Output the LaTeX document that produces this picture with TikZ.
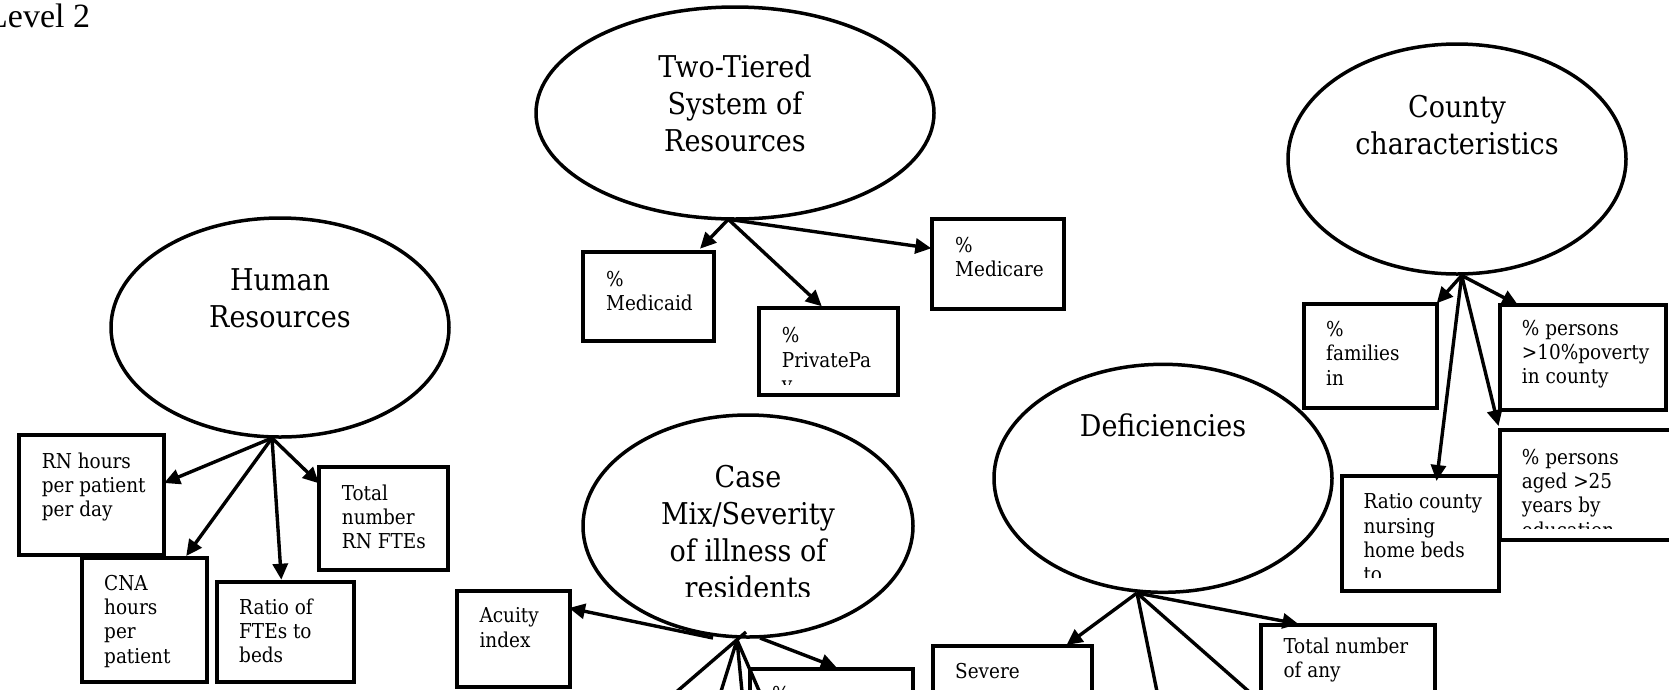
\documentclass[tikz,border=0pt]{standalone}
\usepackage{fontspec}
\setmainfont{DejaVu Serif Condensed}
\newfontfamily\headfont{Liberation Serif}
\usetikzlibrary{arrows.meta,shapes.geometric}
\newcommand{\leftlines}[1]{\begin{tabular}[t]{@{}l@{}}#1\end{tabular}}
\newcommand{\centerlines}[1]{\begin{tabular}[t]{@{}c@{}}#1\end{tabular}}
\begin{document}
\begin{tikzpicture}[x=1pt,y=-1pt,
  concept/.style={draw, ellipse, line width=3.5pt, inner sep=0pt, outer sep=0pt},
  databox/.style={draw, rectangle, line width=4pt, inner sep=0pt, outer sep=0pt, anchor=north west},
  link/.style={line width=3.4pt, -{Triangle[length=16pt,width=15pt]}},
  bare/.style={line width=3.4pt},
  bigtext/.style={inner sep=0pt, anchor=base, font=\fontsize{30}{37}\selectfont},
  smalltext/.style={inner sep=0pt, anchor=base west, font=\fontsize{20.5}{24.4}\selectfont},
  headtext/.style={inner sep=0pt, anchor=base west, font=\headfont\fontsize{34}{40}\selectfont}
]
\useasboundingbox (0,0) rectangle (1669,689);
\clip (0,0) rectangle (1669,689);

% heading
\node[headtext] (level) at (-13,27) {Level 2};

% latent constructs
\node[concept, minimum width=398pt, minimum height=212pt] (tt) at (735,113) {};
\node[concept, minimum width=338pt, minimum height=219pt] (hr) at (280,327.5) {};
\node[concept, minimum width=338pt, minimum height=230pt] (cc) at (1457,159) {};
\node[concept, minimum width=330pt, minimum height=222pt] (cm) at (748,526) {};
\node[concept, minimum width=338pt, minimum height=228pt] (df) at (1163,478.3) {};

\node[bigtext] (tt-t) at (735,77) {\centerlines{Two-Tiered\\System of\\Resources}};
\node[bigtext] (hr-t) at (280,290.7) {\centerlines{Human\\Resources}};
\node[bigtext] (cc-t) at (1457,117) {\centerlines{County\\characteristics}};
\node[bigtext] (df-t) at (1163,436) {Deficiencies};
\begin{scope}
  \clip (580,412) rectangle (916,596.7);
  \node[bigtext] (cm-t) at (748,487.3) {\centerlines{Case\\Mix/Severity\\of illness of\\residents}};
\end{scope}

% indicator boxes
\node[databox, minimum width=145pt, minimum height=120pt] (rn) at (19,435) {};
\node[databox, minimum width=125pt, minimum height=123.7pt] (cna) at (81.7,558) {};
\node[databox, minimum width=137.3pt, minimum height=100pt] (ratio) at (216.7,581.7) {};
\node[databox, minimum width=129pt, minimum height=103.3pt] (totrn) at (319,466.7) {};
\node[databox, minimum width=113.3pt, minimum height=96pt] (acuity) at (456.7,590.7) {};
\node[databox, minimum width=130.7pt, minimum height=89pt] (medicaid) at (583.3,251.7) {};
\node[databox, minimum width=139pt, minimum height=86.7pt] (private) at (759.3,308.3) {};
\node[databox, minimum width=132pt, minimum height=90pt] (medicare) at (932.3,219) {};
\node[databox, minimum width=132.4pt, minimum height=103.6pt] (families) at (1304.3,304.3) {};
\node[databox, minimum width=166pt, minimum height=105pt] (pers1) at (1500,305) {};
\node[databox, minimum width=220pt, minimum height=109.5pt] (pers2) at (1500,430) {};
\node[databox, minimum width=157.6pt, minimum height=114.3pt] (ratioc) at (1341.7,476.4) {};
\node[databox, minimum width=163.2pt, minimum height=100pt] (pct) at (749.5,668.5) {};
\node[databox, minimum width=158.4pt, minimum height=100pt] (severe) at (933.3,646) {};
\node[databox, minimum width=174.3pt, minimum height=100pt] (totany) at (1260.7,625) {};

% box texts
\node[smalltext] (rn-t) at (41.7,468) {\leftlines{RN hours\\per patient\\per day}};
\node[smalltext] (cna-t) at (104,590) {\leftlines{CNA\\hours\\per\\patient}};
\node[smalltext] (ratio-t) at (239,614) {\leftlines{Ratio of\\FTEs to\\beds}};
\node[smalltext] (totrn-t) at (341.7,500) {\leftlines{Total\\number\\RN FTEs}};
\node[smalltext] (acuity-t) at (479.3,622.7) {\leftlines{Acuity\\index}};
\node[smalltext] (medicaid-t) at (606,286) {\leftlines{\%\\Medicaid}};
\begin{scope}
  \clip (760,309) rectangle (898,384);
  \node[smalltext] (private-t) at (781.7,342.7) {\leftlines{\%\\PrivatePa\\y}};
\end{scope}
\node[smalltext] (medicare-t) at (955,252.3) {\leftlines{\%\\Medicare}};
\node[smalltext] (families-t) at (1326,336.4) {\leftlines{\%\\families\\in}};
\node[smalltext] (pers1-t) at (1521.7,335) {\leftlines{\% persons\\>10\%poverty\\in county}};
\begin{scope}
  \clip (1501,431) rectangle (1669,528.5);
  \node[smalltext] (pers2-t) at (1521.7,464) {\leftlines{\% persons\\aged >25\\years by\\education}};
\end{scope}
\begin{scope}
  \clip (1342,477) rectangle (1499,577.5);
  \node[smalltext] (ratioc-t) at (1363.3,508.6) {\leftlines{Ratio county\\nursing\\home beds\\to}};
\end{scope}
\node[smalltext] (pct-t) at (772,701) {\%};
\node[smalltext] (severe-t) at (955,678.3) {Severe};
\node[smalltext] (totany-t) at (1283.3,653.3) {\leftlines{Total number\\of any}};

% fan origins and free ends
\coordinate (hr-o) at (272,438);
\coordinate (tt-o) at (728.3,219.3);
\coordinate (cc-o) at (1461.7,275.5);
\coordinate (df-o) at (1137,593);
\coordinate (cm-a) at (713,638);
\coordinate (cm-b) at (760,638);
\coordinate (cm-c) at (746,632);
\coordinate (cm-o) at (737,640);
\coordinate (cm-e1) at (667,700);
\coordinate (cm-e2) at (718.3,700);
\coordinate (cm-e3) at (742.8,700);
\coordinate (cm-e4) at (763.1,700);
\coordinate (df-e1) at (1158.7,700);
\coordinate (df-e2) at (1258.5,700);

% Human Resources
\draw[link] (hr-o) -- ([yshift=12pt]rn.east);
\draw[link] (hr-o) -- ([xshift=42pt,yshift=2pt]cna.north);
\draw[link] (hr-o) -- ([xshift=-4pt,yshift=2pt]ratio.north);
\draw[link] (hr-o) -- ([yshift=35pt]totrn.west);

% Two-Tiered System of Resources
\draw[link] (tt-o) -- ([xshift=-14pt,yshift=3pt]medicaid.north east);
\draw[link] (tt-o) -- ([xshift=-7pt,yshift=2pt]private.north);
\draw[link] (tt-o) -- ([xshift=-1pt,yshift=15.7pt]medicare.west);

% County characteristics
\draw[link] (cc-o) -- ([yshift=1pt]families.north east);
\draw[link] (cc-o) -- ([xshift=18pt]pers1.north west);
\draw[link] (cc-o) -- ([xshift=-1.5pt,yshift=4pt]pers2.north west);
\draw[link] (cc-o) -- ([xshift=16pt,yshift=-4.6pt]ratioc.north);

% Case Mix / Severity of illness
\draw[link] (cm-a) -- ([xshift=-1pt,yshift=30.7pt]acuity.east);
\draw[link] (cm-b) -- ([xshift=5.6pt,yshift=1pt]pct.north);
\draw[bare] (cm-c) -- (cm-e1);
\draw[bare] (cm-o) -- (cm-e2);
\draw[bare] (cm-o) -- (cm-e3);
\draw[bare] (cm-o) -- (cm-e4);

% Deficiencies
\draw[link] (df-o) -- ([xshift=54pt,yshift=1pt]severe.north);
\draw[link] (df-o) -- ([xshift=37.8pt,yshift=1pt]totany.north west);
\draw[bare] (df-o) -- (df-e1);
\draw[bare] (df-o) -- (df-e2);
\end{tikzpicture}
\end{document}
